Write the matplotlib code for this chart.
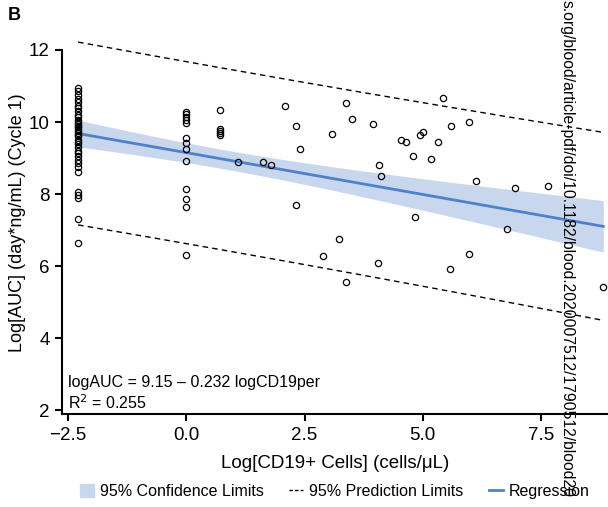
import numpy as np
import matplotlib
matplotlib.use("Agg")
import matplotlib.pyplot as plt
from matplotlib.patches import Patch
from matplotlib.lines import Line2D

plt.rcParams['font.family'] = ['Liberation Sans', 'DejaVu Sans']

# points (log CD19+ cells, log AUC)
x_low = -2.29
y_low = [10.95, 10.85, 10.75, 10.65, 10.55, 10.45, 10.4, 10.3, 10.2, 10.15,
         10.05, 10.0, 9.95, 9.9, 9.85, 9.8, 9.75, 9.7, 9.65, 9.6, 9.5, 9.45,
         9.4, 9.3, 9.2, 9.15, 9.05, 8.95, 8.85, 8.75, 8.62, 8.07, 7.97, 7.88,
         7.32, 6.63]
x_zero = 0.0
y_zero = [10.29, 10.21, 10.15, 10.06, 9.98, 9.57, 9.41, 9.24, 8.91, 8.13,
          7.86, 7.65, 6.31]
x_rest = [0.72, 0.72, 0.72, 0.72, 0.72, 1.09, 1.62, 1.80, 2.09, 2.32, 2.41,
          2.32, 3.38, 3.51, 3.09, 3.94, 4.07, 4.11, 3.22, 2.90, 4.05, 3.37,
          4.55, 4.65, 4.79, 4.83, 4.95, 5.00, 5.43, 5.60, 5.97, 5.33, 5.18,
          6.12, 6.95, 7.66, 6.78, 5.99, 5.58, 8.82]
y_rest = [10.33, 9.82, 9.75, 9.69, 9.63, 8.89, 8.89, 8.82, 10.44, 9.89, 9.25,
          7.69, 10.52, 10.08, 9.67, 9.94, 8.82, 8.49, 6.75, 6.27, 6.08, 5.57,
          9.49, 9.44, 9.05, 7.36, 9.64, 9.72, 10.68, 9.88, 10.01, 9.45, 8.98,
          8.35, 8.16, 8.22, 7.03, 6.33, 5.91, 5.41]

intercept = 9.15
slope = -0.232
r2_text = "0.255"

x = np.array([x_low] * len(y_low) + [x_zero] * len(y_zero) + x_rest)
y = np.array(y_low + y_zero + y_rest)

# regression limits
n = len(x)
resid = y - (intercept + slope * x)
s = np.sqrt(np.sum(resid ** 2) / (n - 2))
xbar = x.mean()
sxx = np.sum((x - xbar) ** 2)
t = 1.985
xs = np.linspace(-2.29, 8.82, 200)
fit = intercept + slope * xs
ci = t * s * np.sqrt(1 / n + (xs - xbar) ** 2 / sxx)
pi = t * s * np.sqrt(1 + 1 / n + (xs - xbar) ** 2 / sxx)

fig = plt.figure(figsize=(6.08, 5.07), dpi=100)
ax = fig.add_axes([0.102, 0.183, 0.898, 0.754])

band_col = '#c9d7ee'
line_col = '#4f81c9'
ax.fill_between(xs, fit - ci, fit + ci, color=band_col, lw=0)
ax.plot(xs, fit, color=line_col, lw=2)
ax.plot(xs, fit + pi, color='black', lw=1, ls=(0, (4, 3)))
ax.plot(xs, fit - pi, color='black', lw=1, ls=(0, (4, 3)))
ax.plot(x, y, 'o', mfc='none', mec='black', ms=4.5, mew=0.9)

ax.set_xlim(-2.63, 8.92)
ax.set_ylim(1.89, 12.5)
ax.set_xticks([-2.5, 0, 2.5, 5, 7.5])
ax.set_xticklabels(['\u22122.5', '0.0', '2.5', '5.0', '7.5'])
ax.set_yticks([2, 4, 6, 8, 10, 12])
ax.spines['top'].set_visible(False)
ax.spines['right'].set_visible(False)
ax.spines['left'].set_bounds(1.89, 12)
ax.spines['left'].set_linewidth(1.5)
ax.spines['bottom'].set_linewidth(1.5)
ax.tick_params(labelsize=13.5, width=1.5, length=5, pad=4)

ax.set_xlabel('Log[CD19+ Cells] (cells/\u03bcL)', fontsize=13.5, labelpad=8)
ax.set_ylabel('Log[AUC] (day*ng/mL) (Cycle 1)', fontsize=13, labelpad=2)

ax.text(0.011, 0.084, f'logAUC = {intercept} \u2013 {abs(slope)} logCD19per',
        transform=ax.transAxes, fontsize=11.5, va='center')
ax.text(0.011, 0.031, f'R$^2$ = {r2_text}', transform=ax.transAxes,
        fontsize=11.5, va='center')

fig.text(0.012, 0.97, 'B', fontsize=13, fontweight='bold', va='center')

handles = [Patch(color=band_col, label='95% Confidence Limits'),
           Line2D([], [], color='black', lw=1, ls=(0, (2.5, 1.5)),
                  label='95% Prediction Limits'),
           Line2D([], [], color=line_col, lw=2, label='Regression')]
fig.legend(handles=handles, loc='center', bbox_to_anchor=(0.551, 0.03),
           ncol=3, frameon=False, fontsize=11.5, handlelength=0.85,
           handleheight=0.85, columnspacing=1.6, handletextpad=0.4)

fig.text(0.933, 1.0, 's.org/blood/article-pdf/doi/10.1182/blood.2020007512/1790512/blood20',
         rotation=-90, fontsize=11.3, va='top', ha='center')

fig.savefig('out.png', dpi=100)
